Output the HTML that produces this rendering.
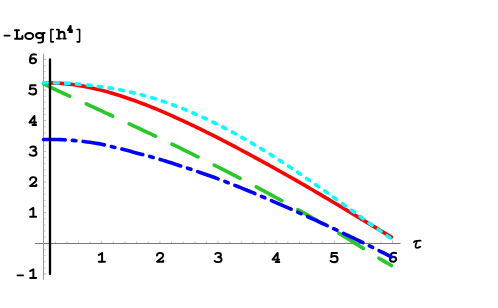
<!DOCTYPE html>
<html><head><meta charset="utf-8"><style>
html,body{margin:0;padding:0;background:#fff;}
svg{display:block;}
</style></head><body>
<svg width="498" height="308" viewBox="0 0 498 308" role="img" aria-label="Plot of -Log[h^4] versus tau">
<title>-Log[h^4] vs τ</title>
<desc>Four curves (cyan dotted, red solid, green dashed, blue dash-dotted) plotted for τ from 0 to 6; y axis from -1 to 6 labelled -Log[h^4]; x axis labelled τ with ticks 1 2 3 4 5 6; vertical black line near τ = 0.11.</desc>
<rect width="498" height="308" fill="#fff"/>
<g stroke="#7a7a7a" stroke-width="1" fill="none">
<line x1="35" y1="243.5" x2="400.5" y2="243.5"/>
<line x1="43.5" y1="53.8" x2="43.5" y2="279.5" stroke="#999"/>
</g>
<g stroke="#000" stroke-width="0.5" stroke-opacity="0.5" fill="none">
<line x1="55.23" y1="243" x2="55.23" y2="241.55"/><line x1="66.86" y1="243" x2="66.86" y2="241.55"/><line x1="78.49" y1="243" x2="78.49" y2="241.55"/><line x1="90.12" y1="243" x2="90.12" y2="241.55"/><line x1="101.75" y1="243" x2="101.75" y2="240.70"/><line x1="113.38" y1="243" x2="113.38" y2="241.55"/><line x1="125.01" y1="243" x2="125.01" y2="241.55"/><line x1="136.64" y1="243" x2="136.64" y2="241.55"/><line x1="148.27" y1="243" x2="148.27" y2="241.55"/><line x1="159.90" y1="243" x2="159.90" y2="240.70"/><line x1="171.53" y1="243" x2="171.53" y2="241.55"/><line x1="183.16" y1="243" x2="183.16" y2="241.55"/><line x1="194.79" y1="243" x2="194.79" y2="241.55"/><line x1="206.42" y1="243" x2="206.42" y2="241.55"/><line x1="218.05" y1="243" x2="218.05" y2="240.70"/><line x1="229.68" y1="243" x2="229.68" y2="241.55"/><line x1="241.31" y1="243" x2="241.31" y2="241.55"/><line x1="252.94" y1="243" x2="252.94" y2="241.55"/><line x1="264.57" y1="243" x2="264.57" y2="241.55"/><line x1="276.20" y1="243" x2="276.20" y2="240.70"/><line x1="287.83" y1="243" x2="287.83" y2="241.55"/><line x1="299.46" y1="243" x2="299.46" y2="241.55"/><line x1="311.09" y1="243" x2="311.09" y2="241.55"/><line x1="322.72" y1="243" x2="322.72" y2="241.55"/><line x1="334.35" y1="243" x2="334.35" y2="240.70"/><line x1="345.98" y1="243" x2="345.98" y2="241.55"/><line x1="357.61" y1="243" x2="357.61" y2="241.55"/><line x1="369.24" y1="243" x2="369.24" y2="241.55"/><line x1="380.87" y1="243" x2="380.87" y2="241.55"/><line x1="392.50" y1="243" x2="392.50" y2="240.70"/><line x1="44" y1="273.95" x2="46.30" y2="273.95"/><line x1="44" y1="267.82" x2="45.45" y2="267.82"/><line x1="44" y1="261.69" x2="45.45" y2="261.69"/><line x1="44" y1="255.56" x2="45.45" y2="255.56"/><line x1="44" y1="249.43" x2="45.45" y2="249.43"/><line x1="44" y1="237.17" x2="45.45" y2="237.17"/><line x1="44" y1="231.04" x2="45.45" y2="231.04"/><line x1="44" y1="224.91" x2="45.45" y2="224.91"/><line x1="44" y1="218.78" x2="45.45" y2="218.78"/><line x1="44" y1="212.65" x2="46.30" y2="212.65"/><line x1="44" y1="206.52" x2="45.45" y2="206.52"/><line x1="44" y1="200.39" x2="45.45" y2="200.39"/><line x1="44" y1="194.26" x2="45.45" y2="194.26"/><line x1="44" y1="188.13" x2="45.45" y2="188.13"/><line x1="44" y1="182.00" x2="46.30" y2="182.00"/><line x1="44" y1="175.87" x2="45.45" y2="175.87"/><line x1="44" y1="169.74" x2="45.45" y2="169.74"/><line x1="44" y1="163.61" x2="45.45" y2="163.61"/><line x1="44" y1="157.48" x2="45.45" y2="157.48"/><line x1="44" y1="151.35" x2="46.30" y2="151.35"/><line x1="44" y1="145.22" x2="45.45" y2="145.22"/><line x1="44" y1="139.09" x2="45.45" y2="139.09"/><line x1="44" y1="132.96" x2="45.45" y2="132.96"/><line x1="44" y1="126.83" x2="45.45" y2="126.83"/><line x1="44" y1="120.70" x2="46.30" y2="120.70"/><line x1="44" y1="114.57" x2="45.45" y2="114.57"/><line x1="44" y1="108.44" x2="45.45" y2="108.44"/><line x1="44" y1="102.31" x2="45.45" y2="102.31"/><line x1="44" y1="96.18" x2="45.45" y2="96.18"/><line x1="44" y1="90.05" x2="46.30" y2="90.05"/><line x1="44" y1="83.92" x2="45.45" y2="83.92"/><line x1="44" y1="77.79" x2="45.45" y2="77.79"/><line x1="44" y1="71.66" x2="45.45" y2="71.66"/><line x1="44" y1="65.53" x2="45.45" y2="65.53"/><line x1="44" y1="59.40" x2="46.30" y2="59.40"/>
</g>
<g stroke="#000" stroke-width="1.95" stroke-linecap="round" stroke-linejoin="round" fill="none"><g aria-label="1" transform="translate(101.75,262.80)"><path d="M-2.85,-7.9 L0.35,-9.7 V-1 M-2.85,-1 H3.15"/></g><g aria-label="2" transform="translate(159.90,262.80)"><path d="M-2.9,-7.2 C-2.9,-9.2 -1.3,-9.9 0.3,-9.9 C2.0,-9.9 3.3,-8.9 3.3,-7.3 C3.3,-5.5 0.9,-3.9 -2.9,-1.1 H3.3 V-2.2"/></g><g aria-label="3" transform="translate(218.05,262.80)"><path d="M-2.6,-8.9 C-2.0,-9.6 -1.05,-9.9 0.15,-9.9 C1.75,-9.9 2.85,-9.1 2.85,-7.9 C2.85,-6.6 1.75,-5.8 0.15,-5.8 C2.15,-5.8 3.55,-4.8 3.55,-3.2 C3.55,-1.6 2.05,-0.7 0.05,-0.7 C-1.45,-0.7 -2.75,-1.1 -3.45,-1.9"/></g><g aria-label="4" transform="translate(276.20,262.80)"><path d="M1.2,-9.7 L-3.6,-3.2 H3.0 M1.45,-9.7 V-0.8 M-0.5,-0.8 H3.1"/></g><g aria-label="5" transform="translate(334.35,262.80)"><path d="M2.6,-9.8 H-2.65 L-3.05,-5.7 C-2.15,-6.4 -1.15,-6.7 -0.05,-6.7 C1.95,-6.7 3.25,-5.4 3.25,-3.6 C3.25,-1.8 1.85,-0.6 -0.25,-0.6 C-1.75,-0.6 -3.15,-1.1 -3.85,-1.9"/></g><g aria-label="6" transform="translate(393.10,262.80)"><path d="M3.0,-9.7 C2.3,-10.0 1.55,-10.1 0.8,-10.1 C-1.6,-10.1 -3.05,-7.5 -3.05,-3.8"/><ellipse cx="0.0" cy="-3.6" rx="3.05" ry="2.55"/></g><g aria-label="1" transform="translate(33.00,278.95)"><path d="M-2.85,-7.9 L0.35,-9.7 V-1 M-2.85,-1 H3.15"/></g><g aria-label="1" transform="translate(33.00,217.65)"><path d="M-2.85,-7.9 L0.35,-9.7 V-1 M-2.85,-1 H3.15"/></g><g aria-label="2" transform="translate(33.00,187.00)"><path d="M-2.9,-7.2 C-2.9,-9.2 -1.3,-9.9 0.3,-9.9 C2.0,-9.9 3.3,-8.9 3.3,-7.3 C3.3,-5.5 0.9,-3.9 -2.9,-1.1 H3.3 V-2.2"/></g><g aria-label="3" transform="translate(33.00,156.35)"><path d="M-2.6,-8.9 C-2.0,-9.6 -1.05,-9.9 0.15,-9.9 C1.75,-9.9 2.85,-9.1 2.85,-7.9 C2.85,-6.6 1.75,-5.8 0.15,-5.8 C2.15,-5.8 3.55,-4.8 3.55,-3.2 C3.55,-1.6 2.05,-0.7 0.05,-0.7 C-1.45,-0.7 -2.75,-1.1 -3.45,-1.9"/></g><g aria-label="4" transform="translate(33.00,125.70)"><path d="M1.2,-9.7 L-3.6,-3.2 H3.0 M1.45,-9.7 V-0.8 M-0.5,-0.8 H3.1"/></g><g aria-label="5" transform="translate(33.00,95.05)"><path d="M2.6,-9.8 H-2.65 L-3.05,-5.7 C-2.15,-6.4 -1.15,-6.7 -0.05,-6.7 C1.95,-6.7 3.25,-5.4 3.25,-3.6 C3.25,-1.8 1.85,-0.6 -0.25,-0.6 C-1.75,-0.6 -3.15,-1.1 -3.85,-1.9"/></g><g aria-label="6" transform="translate(33.00,64.40)"><path d="M3.0,-9.7 C2.3,-10.0 1.55,-10.1 0.8,-10.1 C-1.6,-10.1 -3.05,-7.5 -3.05,-3.8"/><ellipse cx="0.0" cy="-3.6" rx="3.05" ry="2.55"/></g></g>
<g stroke="#000" stroke-width="1.7" stroke-linecap="round" fill="none">
<line x1="17.4" y1="275.3" x2="23.2" y2="275.3"/>
<line x1="4.4" y1="35.6" x2="9.7" y2="35.6"/>
<path d="M413.9,242.2 C414.4,241.1 415.3,240.9 416.5,240.9 L420.6,240.7"/>
<path d="M416.9,241 L415.6,245.5 C415.2,247.3 416.1,247.9 417.4,247.8 C418.5,247.7 419.5,247.3 420.2,246.8"/>
</g>
<g stroke="#000" stroke-width="1.95" stroke-linecap="round" stroke-linejoin="round" fill="none">
<path d="M15,30.2 H18.9 M16.95,30.2 V38.7 M15,38.7 H22.4 V35.9"/>
<ellipse cx="29.25" cy="36" rx="3.95" ry="3.0"/>
<ellipse cx="39.4" cy="35.5" rx="3.35" ry="2.55"/>
<path d="M43,32.9 V40.3 C43,42.2 41.5,42.6 40.3,42.6 H38.4 M43,32.9 H44.6"/>
<path d="M56.9,29.6 H58.85 V38.6 M56.9,38.6 H60.8 M58.85,34.4 C59.6,32.7 60.8,31.8 62,31.8 C63.6,31.8 64.5,32.9 64.5,34.6 V38.6 M63.2,38.6 H65.8"/>
<path d="M53.4,29.45 H50.9 V41.85 H53.4" stroke-width="1.55"/>
<path d="M77.1,29.45 H79.6 V41.85 H77.1" stroke-width="1.55"/>
<path d="M70.4,25.9 L67.9,30.2 H72.1 M70.7,25.9 V32 M69.4,32 H72" stroke-width="1.8"/>
</g>
<g fill="none" stroke-linecap="round" stroke-linejoin="round">
<path d="M43.60,83.24 L46.50,83.11 L49.40,83.04 L52.29,83.04 L55.19,83.09 L58.09,83.20 L60.99,83.36 L63.88,83.57 L66.78,83.83 L69.68,84.14 L72.58,84.50 L75.48,84.91 L78.37,85.35 L81.27,85.85 L84.17,86.38 L87.07,86.95 L89.96,87.57 L92.86,88.22 L95.76,88.90 L98.66,89.59 L101.56,90.31 L104.45,91.07 L107.35,91.85 L110.25,92.67 L113.15,93.52 L116.05,94.40 L118.94,95.30 L121.84,96.23 L124.74,97.19 L127.64,98.17 L130.53,99.18 L133.43,100.21 L136.33,101.26 L139.23,102.33 L142.13,103.43 L145.02,104.54 L147.92,105.68 L150.82,106.83 L153.72,108.00 L156.61,109.19 L159.51,110.40 L162.41,111.64 L165.31,112.89 L168.21,114.16 L171.10,115.44 L174.00,116.73 L176.90,118.04 L179.80,119.36 L182.69,120.70 L185.59,122.04 L188.49,123.40 L191.39,124.77 L194.29,126.15 L197.18,127.54 L200.08,128.95 L202.98,130.38 L205.88,131.82 L208.78,133.27 L211.67,134.72 L214.57,136.19 L217.47,137.67 L220.37,139.15 L223.26,140.65 L226.16,142.15 L229.06,143.66 L231.96,145.17 L234.86,146.70 L237.75,148.23 L240.65,149.77 L243.55,151.31 L246.45,152.86 L249.34,154.42 L252.24,155.99 L255.14,157.56 L258.04,159.14 L260.94,160.72 L263.83,162.31 L266.73,163.91 L269.63,165.51 L272.53,167.12 L275.42,168.73 L278.32,170.35 L281.22,171.97 L284.12,173.60 L287.02,175.23 L289.91,176.87 L292.81,178.52 L295.71,180.17 L298.61,181.82 L301.50,183.49 L304.40,185.17 L307.30,186.86 L310.20,188.55 L313.10,190.25 L315.99,191.95 L318.89,193.65 L321.79,195.36 L324.69,197.07 L327.59,198.78 L330.48,200.50 L333.38,202.22 L336.28,203.94 L339.18,205.67 L342.07,207.41 L344.97,209.16 L347.87,210.90 L350.77,212.65 L353.67,214.41 L356.56,216.15 L359.46,217.90 L362.36,219.65 L365.26,221.39 L368.15,223.14 L371.05,224.88 L373.95,226.63 L376.85,228.37 L379.75,230.11 L382.64,231.85 L385.54,233.59 L388.44,235.33 L391.34,237.06" stroke="#ff0000" stroke-width="3.63"/>
<path d="M43.60,83.54 L46.50,85.14 L49.40,86.75 L52.29,88.15 L55.19,89.49 L58.09,90.83 L60.99,92.17 L63.88,93.51 L66.78,94.85 L69.68,96.19 L72.58,97.53 L75.48,98.87 L78.37,100.20 L81.27,101.54 L84.17,102.89 L87.07,104.23 L89.96,105.57 L92.86,106.92 L95.76,108.26 L98.66,109.61 L101.56,110.96 L104.45,112.31 L107.35,113.67 L110.25,115.02 L113.15,116.38 L116.05,117.73 L118.94,119.07 L121.84,120.42 L124.74,121.76 L127.64,123.11 L130.53,124.46 L133.43,125.81 L136.33,127.17 L139.23,128.52 L142.13,129.88 L145.02,131.25 L147.92,132.61 L150.82,133.98 L153.72,135.35 L156.61,136.72 L159.51,138.10 L162.41,139.48 L165.31,140.86 L168.21,142.25 L171.10,143.64 L174.00,145.06 L176.90,146.48 L179.80,147.90 L182.69,149.33 L185.59,150.76 L188.49,152.19 L191.39,153.63 L194.29,155.07 L197.18,156.52 L200.08,157.97 L202.98,159.42 L205.88,160.88 L208.78,162.34 L211.67,163.80 L214.57,165.27 L217.47,166.75 L220.37,168.23 L223.26,169.71 L226.16,171.19 L229.06,172.69 L231.96,174.18 L234.86,175.68 L237.75,177.19 L240.65,178.70 L243.55,180.21 L246.45,181.73 L249.34,183.26 L252.24,184.79 L255.14,186.32 L258.04,187.86 L260.94,189.41 L263.83,190.96 L266.73,192.52 L269.63,194.08 L272.53,195.65 L275.42,197.22 L278.32,198.80 L281.22,200.38 L284.12,201.97 L287.02,203.57 L289.91,205.17 L292.81,206.78 L295.71,208.39 L298.61,210.01 L301.50,211.64 L304.40,213.27 L307.30,214.91 L310.20,216.56 L313.10,218.21 L315.99,219.87 L318.89,221.53 L321.79,223.20 L324.69,224.88 L327.59,226.57 L330.48,228.26 L333.38,229.96 L336.28,231.67 L339.18,233.38 L342.07,235.15 L344.97,236.95 L347.87,238.75 L350.77,240.57 L353.67,242.39 L356.56,244.22 L359.46,246.05 L362.36,247.90 L365.26,249.74 L368.15,251.53 L371.05,253.33 L373.95,255.13 L376.85,256.94 L379.75,258.76 L382.64,260.44 L385.54,262.12 L388.44,263.80 L391.34,265.49" stroke="#28c828" stroke-width="3.63" stroke-dasharray="29.1 18.2"/>
<path d="M43.60,139.53 L46.50,139.47 L49.40,139.44 L52.29,139.45 L55.19,139.49 L58.09,139.56 L60.99,139.66 L63.88,139.80 L66.78,139.96 L69.68,140.16 L72.58,140.38 L75.48,140.64 L78.37,140.92 L81.27,141.23 L84.17,141.57 L87.07,141.93 L89.96,142.32 L92.86,142.74 L95.76,143.18 L98.66,143.65 L101.56,144.22 L104.45,144.89 L107.35,145.58 L110.25,146.29 L113.15,147.03 L116.05,147.70 L118.94,148.38 L121.84,149.09 L124.74,149.82 L127.64,150.58 L130.53,151.34 L133.43,152.13 L136.33,152.90 L139.23,153.64 L142.13,154.39 L145.02,155.16 L147.92,155.95 L150.82,156.75 L153.72,157.57 L156.61,158.41 L159.51,159.26 L162.41,160.13 L165.31,161.02 L168.21,161.92 L171.10,162.84 L174.00,163.77 L176.90,164.72 L179.80,165.67 L182.69,166.60 L185.59,167.54 L188.49,168.49 L191.39,169.45 L194.29,170.43 L197.18,171.41 L200.08,172.41 L202.98,173.42 L205.88,174.44 L208.78,175.47 L211.67,176.52 L214.57,177.57 L217.47,178.63 L220.37,179.73 L223.26,180.83 L226.16,181.95 L229.06,183.07 L231.96,184.20 L234.86,185.34 L237.75,186.48 L240.65,187.64 L243.55,188.82 L246.45,190.02 L249.34,191.22 L252.24,192.42 L255.14,193.64 L258.04,194.86 L260.94,196.08 L263.83,197.31 L266.73,198.55 L269.63,199.80 L272.53,201.05 L275.42,202.30 L278.32,203.56 L281.22,204.83 L284.12,206.10 L287.02,207.38 L289.91,208.67 L292.81,209.95 L295.71,211.25 L298.61,212.55 L301.50,213.85 L304.40,215.16 L307.30,216.48 L310.20,217.80 L313.10,219.12 L315.99,220.45 L318.89,221.78 L321.79,223.12 L324.69,224.47 L327.59,225.82 L330.48,227.17 L333.38,228.53 L336.28,229.90 L339.18,231.26 L342.07,232.64 L344.97,234.02 L347.87,235.40 L350.77,236.79 L353.67,238.19 L356.56,239.59 L359.46,241.00 L362.36,242.41 L365.26,243.83 L368.15,245.25 L371.05,246.68 L373.95,248.12 L376.85,249.56 L379.75,251.01 L382.64,252.47 L385.54,253.93 L388.44,255.40 L391.34,256.87" stroke="#0000ff" stroke-width="3.63" stroke-dasharray="21.6 7.19 3.6 7.19"/>
<path d="M43.60,82.81 L46.50,82.79 L49.40,82.79 L52.29,82.81 L55.19,82.86 L58.09,82.93 L60.99,83.02 L63.88,83.14 L66.78,83.28 L69.68,83.45 L72.58,83.64 L75.48,83.85 L78.37,84.09 L81.27,84.35 L84.17,84.64 L87.07,84.96 L89.96,85.29 L92.86,85.66 L95.76,86.05 L98.66,86.43 L101.56,86.82 L104.45,87.24 L107.35,87.67 L110.25,88.14 L113.15,88.63 L116.05,89.15 L118.94,89.69 L121.84,90.27 L124.74,90.86 L127.64,91.49 L130.53,92.14 L133.43,92.81 L136.33,93.51 L139.23,94.24 L142.13,95.00 L145.02,95.78 L147.92,96.59 L150.82,97.42 L153.72,98.29 L156.61,99.19 L159.51,100.14 L162.41,101.11 L165.31,102.11 L168.21,103.13 L171.10,104.18 L174.00,105.26 L176.90,106.36 L179.80,107.49 L182.69,108.64 L185.59,109.82 L188.49,111.02 L191.39,112.25 L194.29,113.50 L197.18,114.78 L200.08,116.08 L202.98,117.40 L205.88,118.75 L208.78,120.12 L211.67,121.52 L214.57,122.94 L217.47,124.39 L220.37,125.85 L223.26,127.34 L226.16,128.85 L229.06,130.38 L231.96,131.94 L234.86,133.51 L237.75,135.11 L240.65,136.73 L243.55,138.37 L246.45,140.03 L249.34,141.71 L252.24,143.40 L255.14,145.12 L258.04,146.86 L260.94,148.61 L263.83,150.38 L266.73,152.17 L269.63,153.98 L272.53,155.81 L275.42,157.66 L278.32,159.52 L281.22,161.39 L284.12,163.29 L287.02,165.19 L289.91,167.11 L292.81,169.05 L295.71,171.00 L298.61,172.96 L301.50,174.93 L304.40,176.91 L307.30,178.91 L310.20,180.91 L313.10,182.93 L315.99,184.95 L318.89,186.98 L321.79,189.02 L324.69,191.07 L327.59,193.13 L330.48,195.19 L333.38,197.25 L336.28,199.33 L339.18,201.40 L342.07,203.48 L344.97,205.57 L347.87,207.65 L350.77,209.74 L353.67,211.83 L356.56,213.93 L359.46,216.02 L362.36,218.11 L365.26,220.20 L368.15,222.28 L371.05,224.37 L373.95,226.45 L376.85,228.52 L379.75,230.59 L382.64,232.65 L385.54,234.70 L388.44,236.75 L391.34,238.79" stroke="#00ffff" stroke-width="3.63" stroke-dasharray="3.65 7.31"/>
<line x1="50" y1="59.40" x2="50" y2="273.95" stroke="#000" stroke-width="2.3"/>
</g>
</svg>
</body></html>
